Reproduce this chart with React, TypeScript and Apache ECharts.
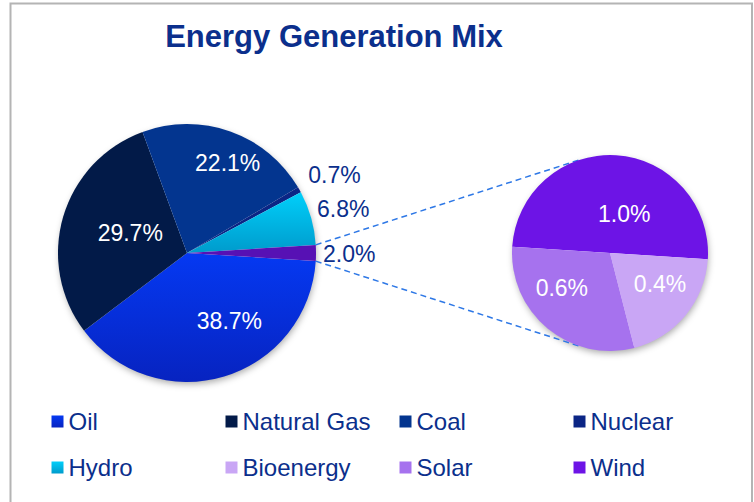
import React, { useEffect, useRef } from 'react';
import * as echarts from 'echarts';

// ---- data ----
const titleText = 'Energy Generation Mix';
const mainNames = ['Oil', 'Natural Gas', 'Coal', 'Nuclear', 'Hydro', 'Other'];
const mainValues = [38.7, 29.7, 22.1, 0.7, 6.8, 2.0];
const subNames = ['Wind', 'Bioenergy', 'Solar'];
const subValues = [1.0, 0.4, 0.6];
const legendRow1 = ['Oil', 'Natural Gas', 'Coal', 'Nuclear'];
const legendRow2 = ['Hydro', 'Bioenergy', 'Solar', 'Wind'];

// ---- styles / geometry ----
const FONT = '"Liberation Sans", Arial, sans-serif';
const NAVY = '#0b2f8c';
const MAIN_C = [187, 253];
const MAIN_R = 129;
const SUB_C = [610, 253];
const SUB_R = 98;
const MAIN_START = -3.6;
const SUB_START = 176.4;

const grad = (a: string, b: string) =>
  new echarts.graphic.LinearGradient(0, 0, 0, 1, [
    { offset: 0, color: a },
    { offset: 1, color: b },
  ]);

const colorOf: Record<string, any> = {
  Oil: grad('#0539f2', '#0723c0'),
  'Natural Gas': '#021a48',
  Coal: '#03358f',
  Nuclear: '#0b2585',
  Hydro: grad('#00cffa', '#009bcc'),
  Other: '#5711b4',
  Wind: '#6d14e6',
  Bioenergy: '#c9a6f5',
  Solar: '#a672ee',
};

const outsideSet = new Set(['Nuclear', 'Hydro', 'Other']);
const labelShift: Record<string, [number, number]> = {
  Oil: [23, 3.5],
  'Natural Gas': [8, -1],
  Coal: [18, -26.5],
  Nuclear: [2, -14],
  Hydro: [-1, -8.5],
  Other: [0, 1],
  Wind: [11, 13],
  Bioenergy: [10, -2],
  Solar: [-15, -5],
};

function tangentPoints(px: number, py: number, cx: number, cy: number, r: number) {
  const d = Math.hypot(px - cx, py - cy);
  const phi = Math.atan2(py - cy, px - cx);
  const a = Math.acos(r / d);
  return [
    [cx + r * Math.cos(phi + a), cy + r * Math.sin(phi + a)],
    [cx + r * Math.cos(phi - a), cy + r * Math.sin(phi - a)],
  ];
}

export default function App() {
  const ref = useRef<HTMLDivElement>(null);

  useEffect(() => {
    if (!ref.current) return;
    const chart = echarts.init(ref.current, undefined, { renderer: 'svg' });

    const fmt = (p: any) => Number(p.value).toFixed(1) + '%';

    const mainData = mainNames.map((n, i) => {
      const outside = outsideSet.has(n);
      return {
        name: n,
        value: mainValues[i],
        itemStyle: { color: colorOf[n] },
        label: outside
          ? { position: 'outside', color: NAVY }
          : { position: 'inside', color: '#ffffff' },
      };
    });
    const subData = subNames.map((n, i) => ({
      name: n,
      value: subValues[i],
      itemStyle: { color: colorOf[n] },
      label: { position: 'inside', color: '#ffffff' },
    }));

    // connector lines (Other slice edges -> tangents of the sub pie)
    const halfOther = (mainValues[5] / 100) * 180;
    const a1 = ((MAIN_START + 2 * halfOther) * Math.PI) / 180;
    const a2 = (MAIN_START * Math.PI) / 180;
    const pTop = [MAIN_C[0] + MAIN_R * Math.cos(a1), MAIN_C[1] - MAIN_R * Math.sin(a1)];
    const pBot = [MAIN_C[0] + MAIN_R * Math.cos(a2), MAIN_C[1] - MAIN_R * Math.sin(a2)];
    const tTop = tangentPoints(pTop[0], pTop[1], SUB_C[0], SUB_C[1], SUB_R).sort((u, v) => u[1] - v[1])[0];
    const tBot = tangentPoints(pBot[0], pBot[1], SUB_C[0], SUB_C[1], SUB_R).sort((u, v) => v[1] - u[1])[0];
    const dashStyle = { stroke: '#2e78e6', lineWidth: 1.5, lineDash: [6, 4] };

    const legendCols = legendRow1.map((n, i) => ({
      orient: 'vertical',
      left: 51.5 + i * 174,
      top: 409.5,
      itemWidth: 12,
      itemHeight: 12,
      itemGap: 22,
      icon: 'rect',
      selectedMode: false,
      padding: 0,
      data: [n, legendRow2[i]],
      textStyle: { fontSize: 24, color: NAVY, fontFamily: FONT },
    }));

    const commonLabel = {
      show: true,
      fontSize: 23,
      fontFamily: FONT,
      formatter: fmt,
    };

    chart.setOption({
      animation: false,
      backgroundColor: '#ffffff',
      title: {
        text: titleText,
        left: 334,
        top: 21,
        textAlign: 'center',
        padding: 0,
        textStyle: { fontSize: 31, fontWeight: 'bold', color: NAVY, fontFamily: FONT },
      },
      legend: legendCols,
      graphic: [
        {
          type: 'rect',
          z: -10,
          silent: true,
          shape: { x: 10.5, y: 3.5, width: 741.5, height: 540 },
          style: { fill: 'none', stroke: '#b4b4b4', lineWidth: 2 },
        },
        {
          type: 'circle',
          z: -5,
          silent: true,
          shape: { cx: MAIN_C[0], cy: MAIN_C[1], r: MAIN_R - 1 },
          style: { fill: '#ffffff', shadowBlur: 7, shadowOffsetX: 1, shadowOffsetY: 3, shadowColor: 'rgba(0,0,0,0.35)' },
        },
        {
          type: 'circle',
          z: -5,
          silent: true,
          shape: { cx: SUB_C[0], cy: SUB_C[1], r: SUB_R - 1 },
          style: { fill: '#ffffff', shadowBlur: 7, shadowOffsetX: 1, shadowOffsetY: 3, shadowColor: 'rgba(0,0,0,0.35)' },
        },
        {
          type: 'line',
          silent: true,
          z: 1,
          shape: { x1: pTop[0], y1: pTop[1], x2: tTop[0], y2: tTop[1] },
          style: dashStyle,
        },
        {
          type: 'line',
          silent: true,
          z: 1,
          shape: { x1: pBot[0], y1: pBot[1], x2: tBot[0], y2: tBot[1] },
          style: dashStyle,
        },
      ],
      series: [
        {
          type: 'pie',
          center: MAIN_C,
          radius: MAIN_R,
          startAngle: MAIN_START,
          clockwise: true,
          avoidLabelOverlap: false,
          silent: true,
          label: commonLabel,
          labelLine: { show: false, length: 1, length2: 1 },
          labelLayout: (p: any) => {
            const s = labelShift[mainNames[p.dataIndex]] || [0, 0];
            return { dx: s[0], dy: s[1] };
          },
          itemStyle: { borderWidth: 0 },
          data: mainData,
        },
        {
          type: 'pie',
          center: SUB_C,
          radius: SUB_R,
          startAngle: SUB_START,
          clockwise: true,
          avoidLabelOverlap: false,
          silent: true,
          label: commonLabel,
          labelLine: { show: false },
          labelLayout: (p: any) => {
            const s = labelShift[subNames[p.dataIndex]] || [0, 0];
            return { dx: s[0], dy: s[1] };
          },
          itemStyle: { borderWidth: 0 },
          data: subData,
        },
      ],
    });

    return () => chart.dispose();
  }, []);

  return (
    <div
      ref={ref}
      style={{ position: 'fixed', left: 0, top: 0, width: 754, height: 502, background: '#fff' }}
    />
  );
}
